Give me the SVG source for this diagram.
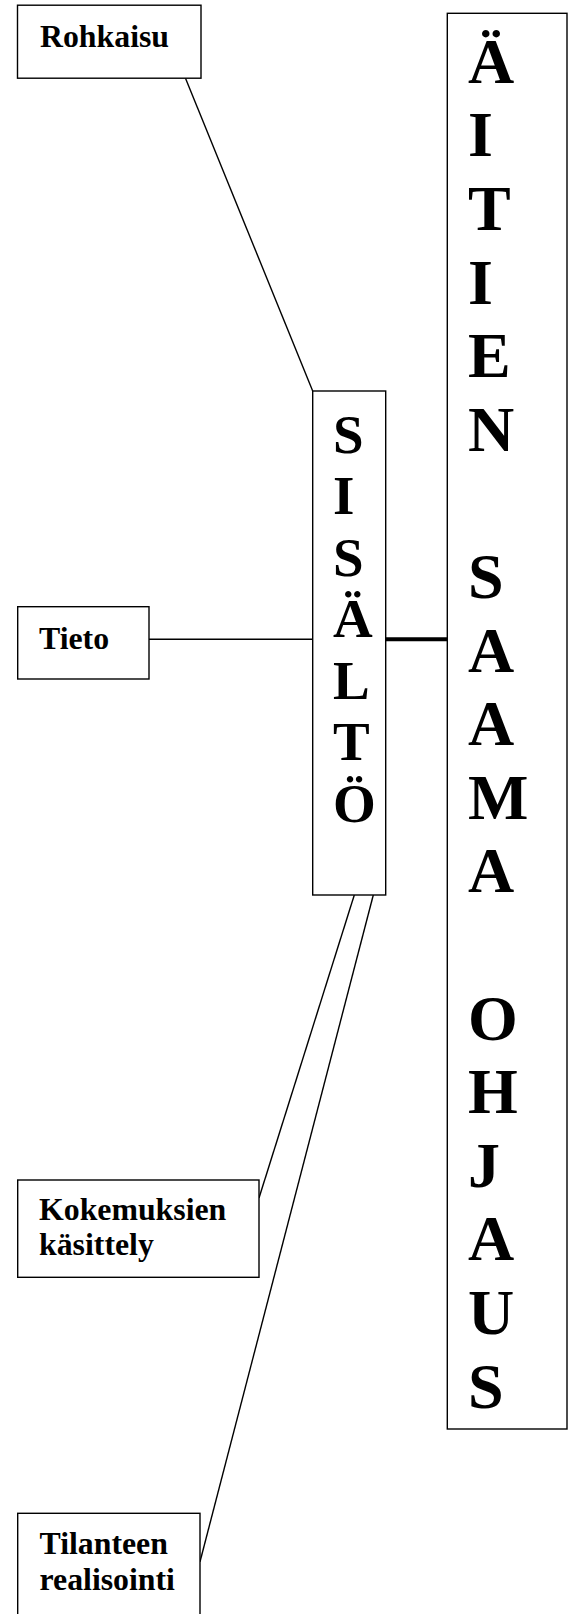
<svg xmlns="http://www.w3.org/2000/svg" width="574" height="1614" viewBox="0 0 574 1614">
<style>
.box{fill:#fff;stroke:#000;stroke-width:1.4}
.ln{stroke:#000;stroke-width:1.4;fill:none}
.thick{stroke:#000;stroke-width:4;fill:none}
.lbl{font-family:"Liberation Serif","Times New Roman",serif;font-weight:bold;font-size:31.8px;fill:#000}
.mid{font-family:"Liberation Serif","Times New Roman",serif;font-weight:bold;font-size:55px;fill:#000}
.big{font-family:"Liberation Serif","Times New Roman",serif;font-weight:bold;font-size:64px;fill:#000}
</style>
<rect width="574" height="1614" fill="#fff"/>
<g id="connectors">
<line class="ln" x1="185.5" y1="78.3" x2="312.7" y2="391"/>
<line class="ln" x1="149" y1="639.3" x2="312.7" y2="639.3"/>
<line class="thick" x1="385.7" y1="639.3" x2="447.3" y2="639.3"/>
<line class="ln" x1="354.3" y1="895" x2="259" y2="1198"/>
<line class="ln" x1="373.3" y1="895" x2="200" y2="1561.7"/>
</g>
<g id="rohkaisu">
<rect class="box" x="17.5" y="5.2" width="183.5" height="73"/>
<text class="lbl" x="40" y="46.7">Rohkaisu</text>
</g>
<g id="tieto">
<rect class="box" x="17.7" y="606.7" width="131.3" height="72.3"/>
<text class="lbl" x="39" y="649.3">Tieto</text>
</g>
<g id="kokemuksien">
<rect class="box" x="17.7" y="1180" width="241.3" height="97.3"/>
<text class="lbl" x="39" y="1219.5">Kokemuksien<tspan x="39" y="1255">käsittely</tspan></text>
</g>
<g id="tilanteen">
<rect class="box" x="17.7" y="1513.3" width="182.3" height="110"/>
<text class="lbl" x="39.5" y="1553.5">Tilanteen<tspan x="39.5" y="1590">realisointi</tspan></text>
</g>
<g id="sisalto">
<rect class="box" x="312.7" y="391" width="73" height="504"/>
<text class="mid" x="333">
<tspan x="333" y="452.7">S</tspan>
<tspan x="333" y="514.2">I</tspan>
<tspan x="333" y="575.7">S</tspan>
<tspan x="333" y="637.2">Ä</tspan>
<tspan x="333" y="698.7">L</tspan>
<tspan x="333" y="760.2">T</tspan>
<tspan x="333" y="821.7">Ö</tspan>
</text>
</g>
<g id="aitien-saama-ohjaus">
<rect class="box" x="447.3" y="13.3" width="119.7" height="1415.7"/>
<text class="big" x="468">
<tspan x="468" y="82.7">Ä</tspan>
<tspan x="468" y="156.3">I</tspan>
<tspan x="468" y="229.9">T</tspan>
<tspan x="468" y="303.5">I</tspan>
<tspan x="468" y="377.1">E</tspan>
<tspan x="468" y="450.7">N</tspan>
<tspan x="468" y="597.9">S</tspan>
<tspan x="468" y="671.5">A</tspan>
<tspan x="468" y="745.1">A</tspan>
<tspan x="468" y="818.7">M</tspan>
<tspan x="468" y="892.3">A</tspan>
<tspan x="468" y="1039.5">O</tspan>
<tspan x="468" y="1113.1">H</tspan>
<tspan x="468" y="1186.7">J</tspan>
<tspan x="468" y="1260.3">A</tspan>
<tspan x="468" y="1333.9">U</tspan>
<tspan x="468" y="1407.5">S</tspan>
</text>
</g>
</svg>
